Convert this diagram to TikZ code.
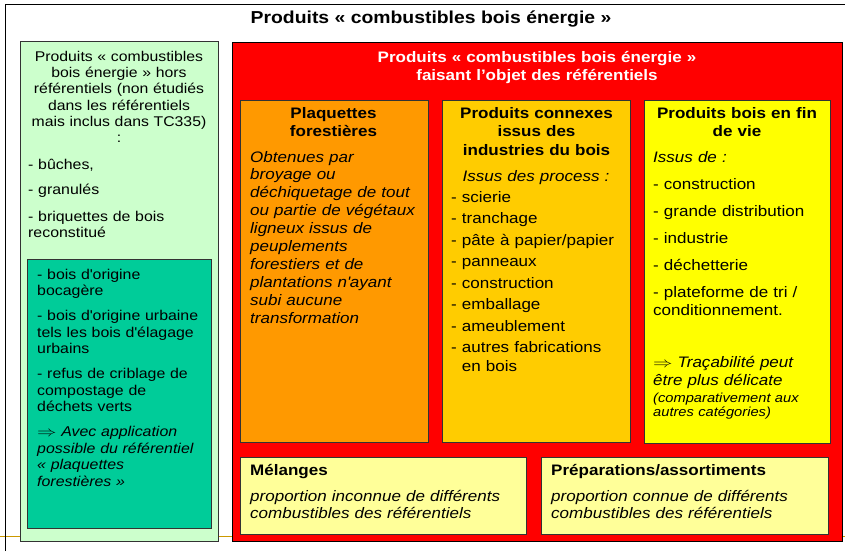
\documentclass[tikz,border=0pt]{standalone}
\usepackage{fontspec}
\usepackage{graphicx}
\setmainfont{Liberation Sans}[FakeStretch=1.12]
\usetikzlibrary{positioning}

\definecolor{horsvert}{HTML}{CCFFCC}
\definecolor{bocage}{HTML}{00CC99}
\definecolor{refrouge}{HTML}{FF0000}
\definecolor{plaqorange}{HTML}{FF9900}
\definecolor{connexor}{HTML}{FFCC00}
\definecolor{finjaune}{HTML}{FFFF00}
\definecolor{melpale}{HTML}{FFFF99}
\definecolor{filet}{HTML}{CC9900}

\newcommand{\apos}{\textquotesingle}
\newcommand{\donc}{\scalebox{1.35}[1]{$\Rightarrow$}}

\begin{document}
\begin{tikzpicture}[x=1pt, y=-1pt,
    panel/.style={draw=black!80, line width=0.8pt, anchor=north west, inner sep=0pt},
    txt/.style={inner sep=0pt, text=black},
    boxtitle/.style={txt, anchor=base, align=center, font=\bfseries\fontsize{15.2}{18.5}\selectfont}]

\useasboundingbox (0,0) rectangle (845,551);

% Frame and bottom rule
\draw[filet, line width=1pt] (0,536) -- (845,536);
\draw[line width=0.8pt] (5,551) -- (5,4) -- (845,4);

% Title
\node[txt, anchor=base, font=\bfseries\fontsize{17.3}{20}\selectfont] (titre) at (431,24)
    {Produits «~combustibles bois énergie~»};

% Left column: outside the referentials
\node[panel, fill=horsvert, minimum width=198, minimum height=500] (hors) at (20,41) {};
\node[txt, anchor=base, text width=190, align=center, font=\fontsize{14.1}{16}\selectfont] (horstitre) at (119,62)
    {Produits «~combustibles\\ bois énergie~» hors\\ référentiels (non étudiés\\ dans les référentiels\\ mais inclus dans TC335)\\ :};
\node[txt, anchor=base west, text width=185, align=left, font=\fontsize{14.2}{16}\selectfont] (horsliste) at (28,169)
    {- bûches,\\[9pt] - granulés\\[11pt] - briquettes de bois\\ reconstitué};

\node[panel, fill=bocage, minimum width=184, minimum height=269] (bocage) at (27,259) {};
\node[txt, anchor=base west, text width=172, align=left, font=\fontsize{14.2}{16.5}\selectfont] (bocagetxt) at (37,279)
    {- bois d\apos origine\\ bocagère\\[8.5pt] - bois d\apos origine urbaine\\ tels les bois d\apos élagage\\ urbains\\[8.5pt]
     - refus de criblage de\\ compostage de\\ déchets verts\\[8.5pt]
     {\itshape \donc{} Avec application\\ possible du référentiel\\ «~plaquettes\\ forestières~»}};

% Right block: the referentials
\node[panel, fill=refrouge, draw=black, line width=1.2pt, minimum width=610, minimum height=499] (ref) at (232,42) {};
\node[txt, anchor=base, text width=400, align=center, text=white, font=\bfseries\fontsize{15.2}{17.5}\selectfont] (reftitre) at (537,63)
    {Produits «~combustibles bois énergie~»\\ faisant l’objet des référentiels};

% Plaquettes forestieres
\node[panel, fill=plaqorange, minimum width=188, minimum height=342] (plaq) at (240,100) {};
\node[boxtitle, text width=180] (plaqtitre) at (333.5,118) {Plaquettes\\ forestières};
\node[txt, anchor=base west, text width=178, align=left, font=\itshape\fontsize{15.2}{17.9}\selectfont] (plaqtxt) at (250,162)
    {Obtenues par\\ broyage ou\\ déchiquetage de tout\\ ou partie de végétaux\\ ligneux issus de\\ peuplements\\
     forestiers et de\\ plantations n\apos ayant\\ subi aucune\\ transformation};

% Produits connexes
\node[panel, fill=connexor, minimum width=188, minimum height=342] (connexe) at (442,100) {};
\node[boxtitle, text width=185] (connexetitre) at (536.5,118) {Produits connexes\\ issus des\\ industries du bois};
\node[txt, anchor=base, text width=180, align=center, font=\itshape\fontsize{15.2}{18}\selectfont] (process) at (536,181)
    {Issus des process :};
\node[txt, anchor=base west, text width=176, align=left, font=\fontsize{15.2}{19}\selectfont] (connexeliste) at (451,202)
    {- scierie\\[2.5pt] - tranchage\\[2.5pt] - pâte à papier/papier\\[2.5pt] - panneaux\\[2.5pt] - construction\\[2.5pt]
     - emballage\\[2.5pt] - ameublement\\[2.5pt] - autres fabrications\\ \phantom{- }en bois};

% Produits bois en fin de vie
\node[panel, fill=finjaune, minimum width=186.5, minimum height=343] (finvie) at (643.5,100) {};
\node[boxtitle, text width=180] (finvietitre) at (737,118) {Produits bois en fin\\ de vie};
\node[txt, anchor=base west, text width=172, align=left, font=\fontsize{15.2}{18}\selectfont] (finvieliste) at (653,162)
    {{\itshape Issus de :}\\[9.5pt] - construction\\[9pt] - grande distribution\\[9pt] - industrie\\[9pt] - déchetterie\\[9pt]
     - plateforme de tri /\\ conditionnement.};
\node[txt, anchor=base west, text width=172, align=left, font=\itshape\fontsize{15.2}{18.4}\selectfont] (tracab) at (653,367)
    {\donc{} Traçabilité peut\\ être plus délicate};
\node[txt, anchor=base west, text width=172, align=left, font=\itshape\fontsize{13.1}{14.3}\selectfont] (compar) at (653,402.5)
    {(comparativement aux\\ autres catégories)};

% Melanges and preparations
\node[panel, fill=melpale, minimum width=286, minimum height=77] (melange) at (240,457) {};
\node[txt, anchor=base west, text width=272, align=left, font=\fontsize{15.2}{17}\selectfont] (melangetxt) at (250,475)
    {{\bfseries Mélanges}\\[9pt] {\itshape proportion inconnue de différents\\ combustibles des référentiels}};

\node[panel, fill=melpale, minimum width=287, minimum height=77] (prepa) at (541,457) {};
\node[txt, anchor=base west, text width=272, align=left, font=\fontsize{15.2}{17}\selectfont] (prepatxt) at (551,475)
    {{\bfseries Préparations/assortiments}\\[9pt] {\itshape proportion connue de différents\\ combustibles des référentiels}};

\end{tikzpicture}
\end{document}
